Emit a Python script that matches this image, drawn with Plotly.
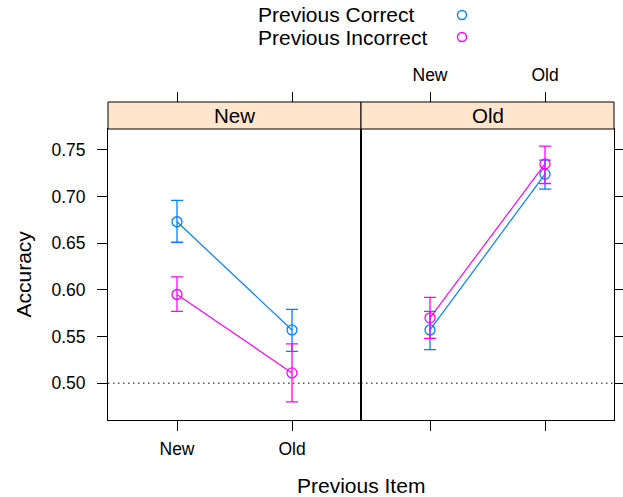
import plotly.graph_objects as go

# ---- data ----
panels = ["New", "Old"]                 # current item (strip labels)
prev_levels = ["New", "Old"]            # previous item (x categories)
series = ["Previous Correct", "Previous Incorrect"]
colors = ["#0080ff", "#ff00ff"]

# means[series][panel] -> values for prev_levels
means = {
    "Previous Correct":   {"New": [0.673, 0.557], "Old": [0.557, 0.724]},
    "Previous Incorrect": {"New": [0.595, 0.511], "Old": [0.570, 0.735]},
}
lower = {
    "Previous Correct":   {"New": [0.651, 0.534], "Old": [0.536, 0.708]},
    "Previous Incorrect": {"New": [0.577, 0.480], "Old": [0.548, 0.714]},
}
upper = {
    "Previous Correct":   {"New": [0.696, 0.579], "Old": [0.577, 0.739]},
    "Previous Incorrect": {"New": [0.614, 0.542], "Old": [0.592, 0.754]},
}
y_ticks = [0.50, 0.55, 0.60, 0.65, 0.70, 0.75]
ref_line = 0.5

# ---- layout geometry (pixels) ----
W, H = 623, 497
PL, PM, PR = 108, 361, 614
PT, PB = 129, 420
ST = 102
FONT = "Liberation Sans, Arial, Helvetica, sans-serif"

def fx(p): return p / W
def fy(p): return 1 - p / H

xpos = [1, 2]
fig = go.Figure()

for pi, panel in enumerate(panels):
    xa = "x" if pi == 0 else "x2"
    ya = "y" if pi == 0 else "y2"
    for s, c in zip(series, colors):
        m = means[s][panel]
        up = [u - v for u, v in zip(upper[s][panel], m)]
        lo = [v - l for v, l in zip(m, lower[s][panel])]
        fig.add_trace(go.Scatter(
            x=xpos, y=m, xaxis=xa, yaxis=ya, mode="lines+markers",
            line=dict(color=c, width=1.2),
            marker=dict(symbol="circle-open", size=10, color=c, line=dict(width=1.3, color=c)),
            error_y=dict(type="data", array=up, arrayminus=lo, color=c, thickness=1.3, width=6),
            showlegend=False, hoverinfo="skip"))

# invisible carriers so the top (above-strip) tick axes are drawn
for xa, ya in (("x3", "y"), ("x4", "y2")):
    fig.add_trace(go.Scatter(x=xpos, y=[ref_line, ref_line], xaxis=xa, yaxis=ya, mode="markers",
                             marker=dict(size=1, opacity=0), showlegend=False, hoverinfo="skip"))

# legend key symbols on a small hidden axis in the key area
fig.add_trace(go.Scatter(
    x=[0, 0], y=[0, 1], xaxis="x5", yaxis="y5", mode="markers",
    marker=dict(symbol="circle-open", size=9, color=colors, line=dict(width=1.4, color=colors)),
    showlegend=False, hoverinfo="skip"))

tickfont = dict(family=FONT, size=17.5, color="black")
common_x = dict(range=[0.4, 2.6], tickvals=xpos, ticktext=prev_levels, ticks="outside",
                ticklen=10, tickcolor="black", tickwidth=1, showgrid=False, zeroline=False,
                tickfont=tickfont, fixedrange=True)
common_y = dict(range=[0.4605, 0.7724], domain=[fy(PB), fy(PT)], tickvals=y_ticks,
                ticktext=[f"{v:.2f}" for v in y_ticks], ticks="outside", ticklen=10,
                tickcolor="black", tickwidth=1, showgrid=False, zeroline=False,
                showline=True, linecolor="black", linewidth=1, mirror=True,
                tickfont=tickfont, fixedrange=True)

fig.update_layout(
    width=W, height=H, margin=dict(l=0, r=0, t=0, b=0),
    paper_bgcolor="white", plot_bgcolor="rgba(0,0,0,0)",
    font=dict(family=FONT, color="black"),
    xaxis=dict(**common_x, domain=[fx(PL), fx(PM)], anchor="y", ticklabelstandoff=3,
               showline=True, linecolor="black", linewidth=1, mirror=True),
    xaxis2=dict(**common_x, domain=[fx(PM), fx(PR)], anchor="y2", showticklabels=False,
                showline=True, linecolor="black", linewidth=1, mirror=True),
    xaxis3=dict(**common_x, overlaying="x", side="top", anchor="free", position=fy(ST),
                showticklabels=False, showline=False),
    xaxis4=dict(**common_x, overlaying="x2", side="top", anchor="free", position=fy(ST),
                showticklabels=True, showline=False, ticklabelstandoff=4),
    yaxis=dict(**common_y, anchor="x", ticklabelstandoff=8),
    yaxis2=dict(**common_y, anchor="x2", side="right", showticklabels=False),
    xaxis5=dict(domain=[fx(452), fx(472)], range=[-1, 1], visible=False, fixedrange=True, anchor="y5"),
    yaxis5=dict(domain=[fy(48), fy(4)], range=[1.5, -0.5], visible=False, fixedrange=True, anchor="x5"),
)

# strips
shapes = []
annotations = []
for pi, panel in enumerate(panels):
    x0, x1 = (PL, PM) if pi == 0 else (PM, PR)
    shapes.append(dict(type="rect", xref="paper", yref="paper", x0=fx(x0), x1=fx(x1),
                       y0=fy(PT), y1=fy(ST), fillcolor="#ffe5cc",
                       line=dict(color="black", width=1), layer="above"))
    annotations.append(dict(text=panel, xref="paper", yref="paper", x=fx((x0 + x1) / 2),
                            y=fy((ST + PT) / 2), showarrow=False, xanchor="center",
                            yanchor="middle", font=dict(family=FONT, size=20.5, color="black")))
    ya = "y" if pi == 0 else "y2"
    xa = "x" if pi == 0 else "x2"
    shapes.append(dict(type="line", xref=f"{xa} domain", yref=ya, x0=0, x1=1,
                       y0=ref_line, y1=ref_line, layer="below",
                       line=dict(color="black", width=1, dash="1.5px,3.5px")))

# axis titles
annotations.append(dict(text="Accuracy", xref="paper", yref="paper", x=fx(23), y=fy((PT + PB) / 2),
                        textangle=-90, showarrow=False, xanchor="center", yanchor="middle",
                        font=dict(family=FONT, size=21, color="black")))
annotations.append(dict(text="Previous Item", xref="paper", yref="paper", x=fx(PM), y=fy(485),
                        showarrow=False, xanchor="center", yanchor="middle",
                        font=dict(family=FONT, size=21, color="black")))
# legend text
for s, yy in zip(series, [15, 37]):
    annotations.append(dict(text=s, xref="paper", yref="paper", x=fx(256), y=fy(yy),
                            showarrow=False, xanchor="left", yanchor="middle",
                            font=dict(family=FONT, size=21, color="black")))

fig.update_layout(shapes=shapes, annotations=annotations)
fig.write_html("out.html", config={"displayModeBar": False},
               post_script="document.body.style.margin='0';")
